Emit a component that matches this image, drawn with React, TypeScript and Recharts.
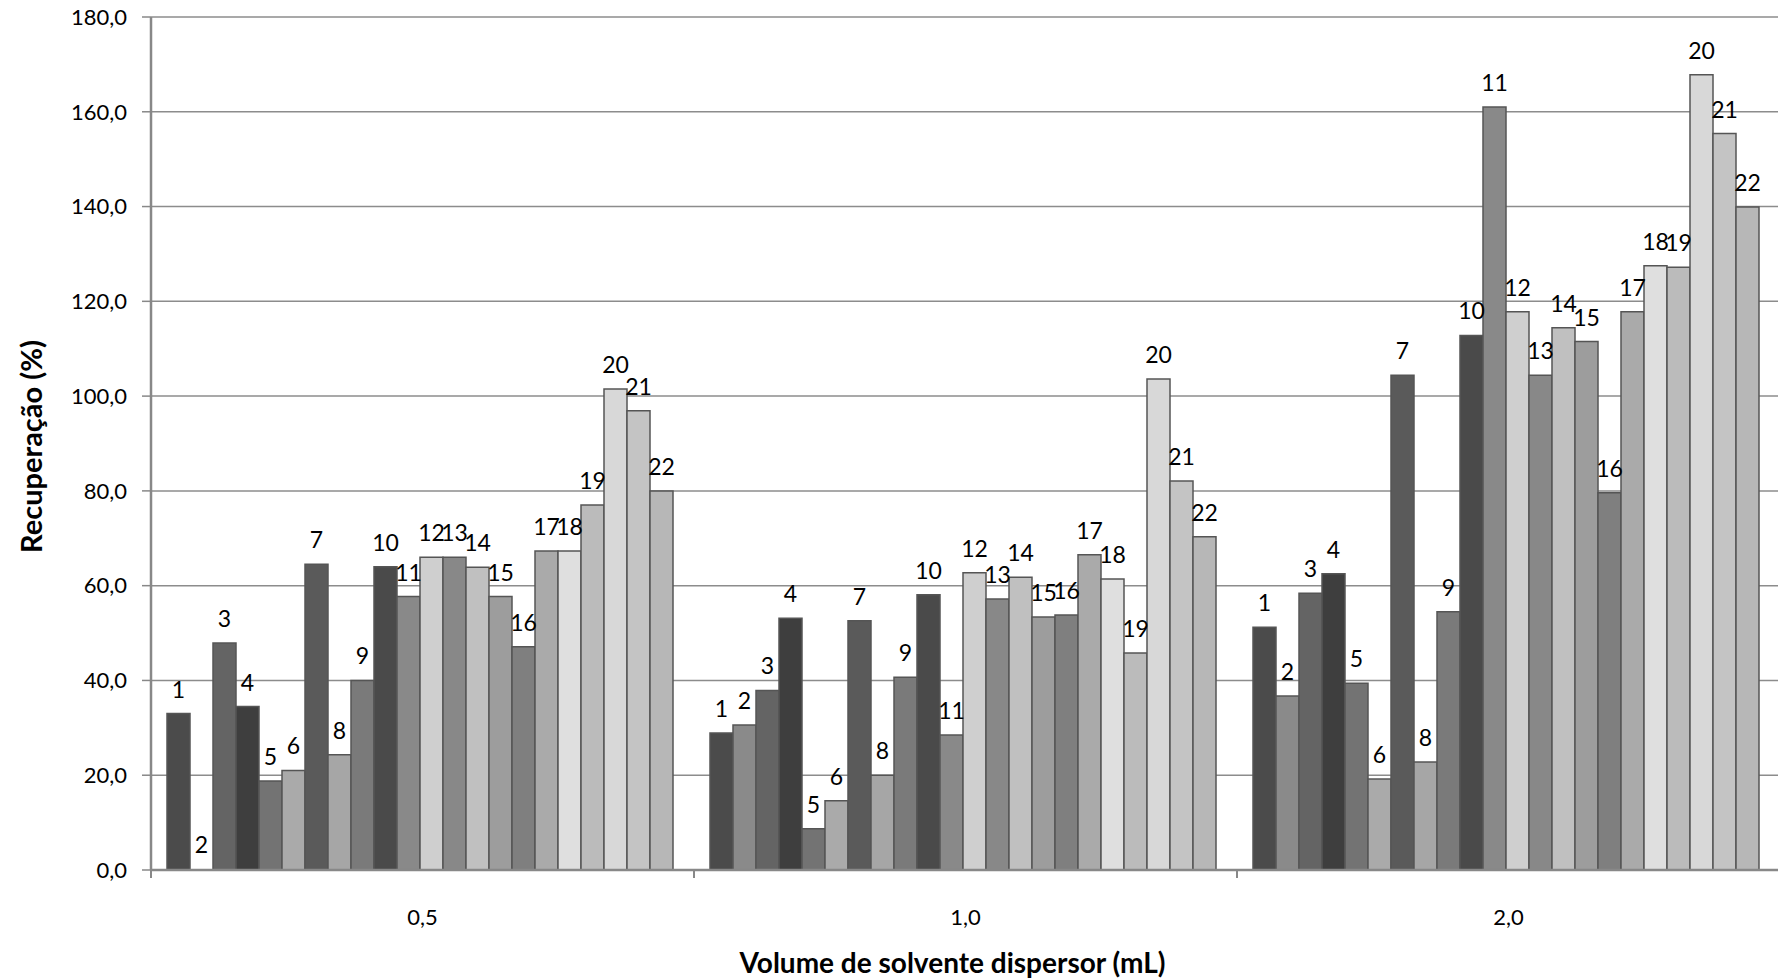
import React from 'react';
import { BarChart, Bar, XAxis, YAxis, CartesianGrid, LabelList, Label, Cell } from 'recharts';

// Recuperação (%) por composto (1..22) para cada volume de solvente dispersor
const categories = ['0,5', '1,0', '2,0'];
const rec05 = [33.0, 0, 47.9, 34.5, 18.8, 21.0, 64.5, 24.3, 40.0, 64.0, 57.7, 66.0, 66.0, 63.9, 57.7, 47.1, 67.3, 67.3, 77.0, 101.5, 96.9, 80.0];
const rec10 = [28.9, 30.6, 37.9, 53.1, 8.7, 14.6, 52.6, 20.0, 40.7, 58.1, 28.5, 62.7, 57.2, 61.8, 53.4, 53.8, 66.5, 61.4, 45.8, 103.6, 82.1, 70.3];
const rec20 = [51.2, 36.7, 58.4, 62.5, 39.4, 19.2, 104.4, 22.8, 54.5, 112.8, 161.0, 117.8, 104.4, 114.4, 111.5, 79.6, 117.8, 127.5, 127.2, 167.8, 155.4, 139.9];
const yTicks = [0, 20, 40, 60, 80, 100, 120, 140, 160, 180];
const barColors = [
  '#4b4b4b', '#8a8a8a', '#646464', '#3e3e3e', '#737373', '#aaaaaa', '#5a5a5a', '#a6a6a6', '#7a7a7a', '#4a4a4a', '#898989',
  '#cfcfcf', '#888888', '#c0c0c0', '#9d9d9d', '#7f7f7f', '#aaaaaa', '#dfdfdf', '#bbbbbb', '#d8d8d8', '#c4c4c4', '#b7b7b7',
];

const series = [rec05, rec10, rec20];
const data = categories.map((name, c) => {
  const row: Record<string, number | string> = { name };
  series[c].forEach((v, i) => {
    row['c' + (i + 1)] = v;
  });
  return row;
});

const FONT = 'Lato, "Open Sans", sans-serif';
const fmt = (v: number) => v.toFixed(1).replace('.', ',');

function XTick(props: any) {
  const { x, y, payload, index } = props;
  const half = payload.offset ?? 0;
  const last = index === categories.length - 1;
  return (
    <g>
      <line x1={x - half} y1={y} x2={x - half} y2={y + 8} stroke="#888" strokeWidth={2} />
      {last && <line x1={x + half} y1={y} x2={x + half} y2={y + 8} stroke="#888" strokeWidth={2} />}
      <text x={x} y={y + 46} textAnchor="middle" dominantBaseline="central" fontSize={22} fill="#000" fontFamily={FONT}>
        {payload.value}
      </text>
    </g>
  );
}

export default function App() {
  return (
    <div style={{ position: 'fixed', left: 0, top: 0, width: 1778, height: 978, overflow: 'hidden', background: '#fff' }}>
      <BarChart
        width={1800}
        height={978}
        data={data}
        margin={{ top: 17, right: 20, bottom: 0, left: 0 }}
        barCategoryGap={16}
        barGap={0}
        style={{ fontFamily: FONT }}
      >
        <CartesianGrid vertical={false} stroke="#8c8c8c" strokeWidth={1.5} />
        {barColors.map((color, i) => (
          <Bar key={i} dataKey={'c' + (i + 1)} fill={color} stroke="#555" strokeWidth={1.5} minPointSize={1} isAnimationActive={false}>
            {data.map((row, c) => (
              <Cell key={c} stroke={row['c' + (i + 1)] === 0 ? 'none' : '#555'} fill={row['c' + (i + 1)] === 0 ? 'none' : color} />
            ))}
            <LabelList position="top" offset={16} formatter={() => String(i + 1)} fontSize={23} fill="#000" fontFamily={FONT} />
          </Bar>
        ))}
        <XAxis
          dataKey="name"
          height={108}
          tickLine={false}
          tickSize={0}
          tickMargin={0}
          axisLine={{ stroke: '#888', strokeWidth: 2.5 }}
          tick={<XTick />}
          interval={0}
        >
          <Label
            content={(p: any) => {
              const vb = p.viewBox;
              return (
                <text x={vb.x + vb.width / 2 - 13} y={vb.y + 92} textAnchor="middle" dominantBaseline="central" fontSize={28} fontWeight="bold" fill="#000" fontFamily={FONT}>
                  Volume de solvente dispersor (mL)
                </text>
              );
            }}
          />
        </XAxis>
        <YAxis
          width={151}
          domain={[0, 180]}
          ticks={yTicks}
          tickFormatter={fmt}
          tickSize={9}
          tickMargin={15}
          tickLine={{ stroke: '#888', strokeWidth: 1.5 }}
          axisLine={{ stroke: '#888', strokeWidth: 2.5 }}
          tick={{ fontSize: 22, fill: '#000', fontFamily: FONT }}
          interval={0}
        >
          <Label
            content={(p: any) => {
              const vb = p.viewBox;
              const cx = 30;
              const cy = vb.y + vb.height / 2 + 3;
              return (
                <text x={cx} y={cy} transform={`rotate(-90 ${cx} ${cy})`} textAnchor="middle" dominantBaseline="central" fontSize={29} fontWeight="bold" fill="#000" fontFamily={FONT}>
                  Recuperação (%)
                </text>
              );
            }}
          />
        </YAxis>
      </BarChart>
    </div>
  );
}
